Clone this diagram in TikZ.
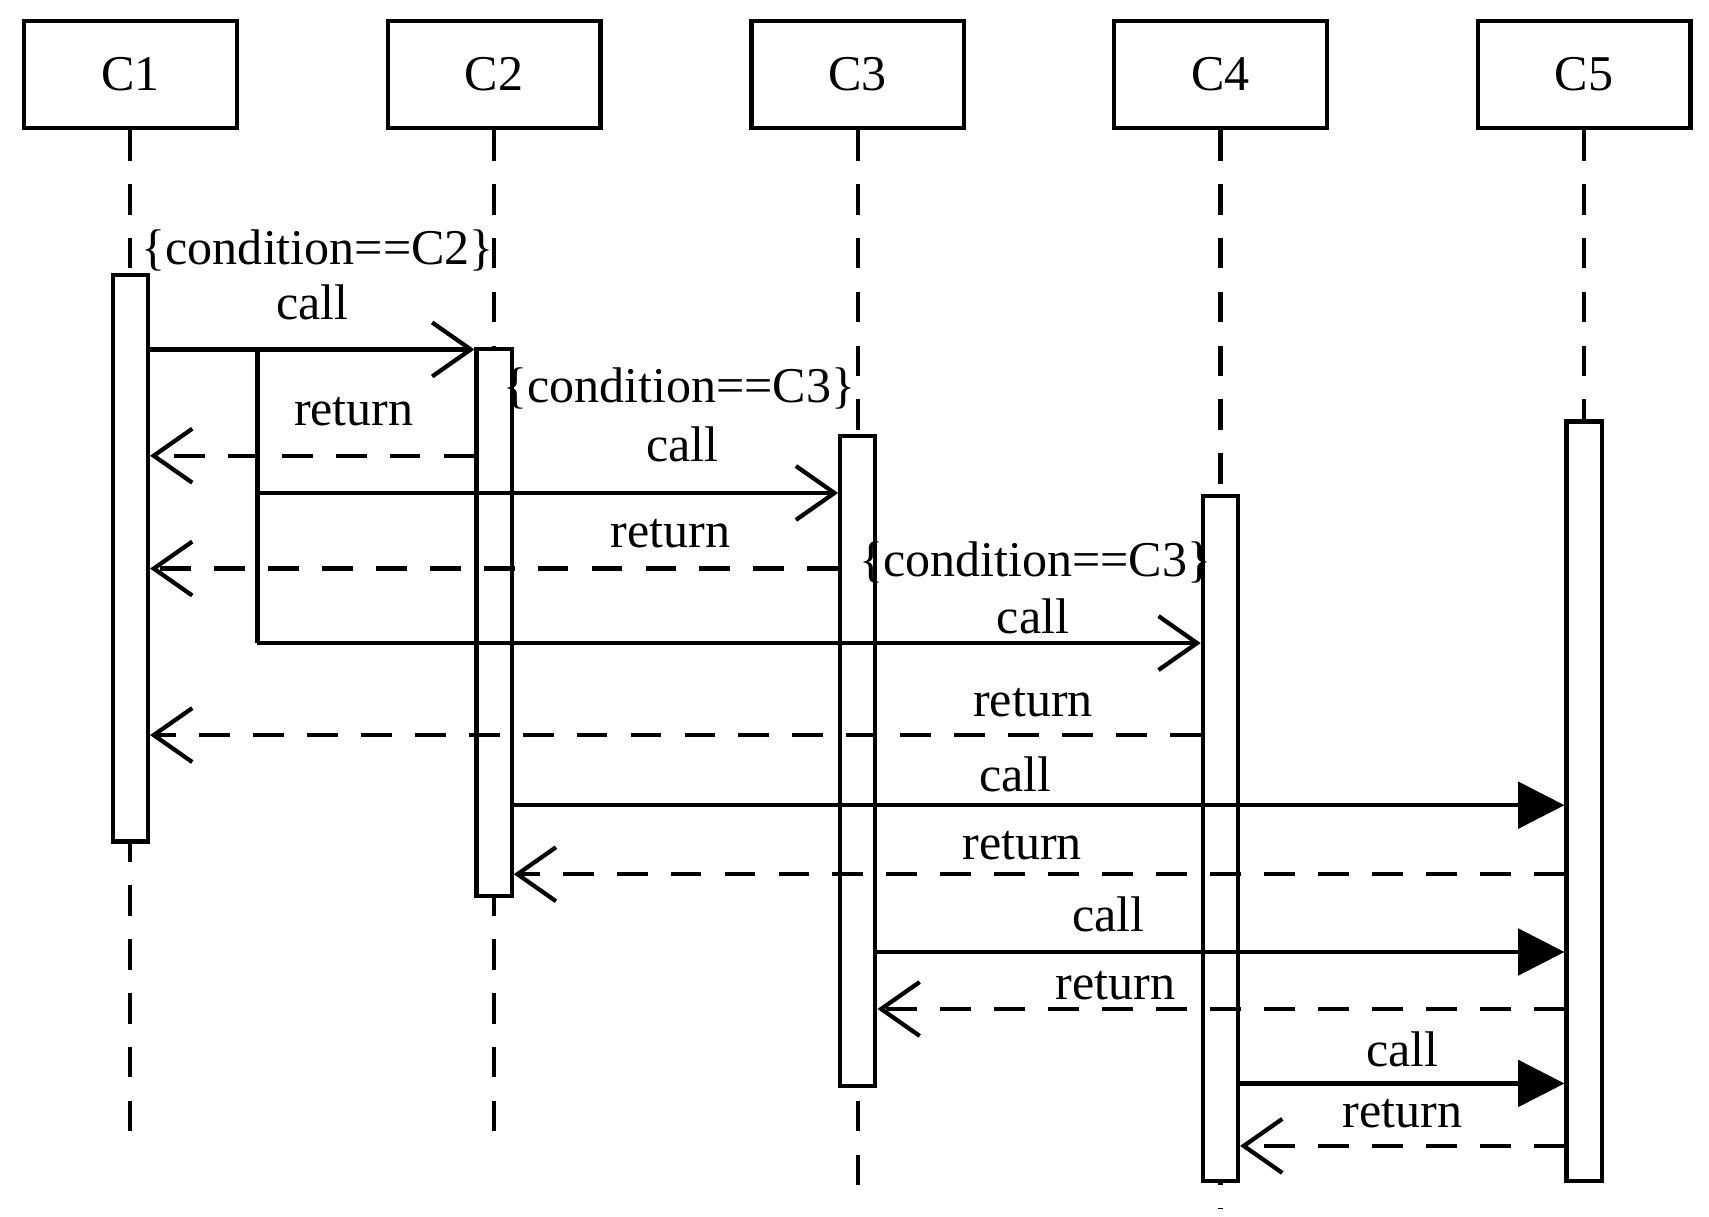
\documentclass[tikz,border=0pt]{standalone}
\usepackage{fontspec}
\setmainfont{Liberation Serif}
\usetikzlibrary{arrows.meta}
\begin{document}
\begin{tikzpicture}[x=0.01cm,y=-0.01cm,
  every node/.style={font=\fontsize{13}{15}\selectfont},
  obj/.style={draw,line width=1.1pt,minimum width=1.94cm,minimum height=0.97cm,inner sep=0pt},
  life/.style={line width=1.1pt,dash pattern=on 8pt off 6pt},
  act/.style={draw,fill=white,line width=1.1pt,inner sep=0pt,minimum width=0.32cm},
  call/.style={line width=1.1pt,-{Straight Barb[length=10pt,width=14pt,line width=1.1pt]}},
  sync/.style={line width=1.1pt,-{Triangle[length=12pt,width=12pt]}},
  ret/.style={line width=1.1pt,dash pattern=on 8pt off 6pt,-{Straight Barb[length=10pt,width=14pt,line width=1.1pt]}},
  lbl/.style={inner sep=0pt}]
\useasboundingbox (0,0) rectangle (1560,1110);
\foreach \n/\x/\e in {1/119/1040,2/451/1040,3/783/1085,4/1114/1104,5/1446/1080}{
  \node[obj] (C\n) at (\x,68) {C\n};
  \coordinate (E\n) at (\x,\e);
  \draw[life] (C\n.south) -- (E\n);
}
\node[act,minimum height=5.17cm] (A1) at (119,509.5) {};
\node[act,minimum height=4.99cm] (A2) at (451,568.5) {};
\node[act,minimum height=5.93cm] (A3) at (783,694.5) {};
\node[act,minimum height=6.25cm] (A4) at (1114,765.5) {};
\node[act,minimum height=6.93cm] (A5) at (1446,731.5) {};
% branch
\coordinate (B0) at (235,319);
\coordinate (B1) at (235,450);
\coordinate (B2) at (235,587);
\draw[call] (A1.east|-B0) -- (A2.west|-B0);
\draw[line width=1.1pt] (B0) -- (B2);
\draw[call] (B1) -- (A3.west|-B1);
\draw[call] (B2) -- (A4.west|-B2);
\coordinate (R1) at (0,416);
\coordinate (R2) at (0,519);
\coordinate (R3) at (0,671);
\draw[ret] (A2.west|-R1) -- (A1.east|-R1);
\draw[ret] (A3.west|-R2) -- (A1.east|-R2);
\draw[ret] (A4.west|-R3) -- (A1.east|-R3);
\coordinate (M1) at (0,735);
\coordinate (M2) at (0,798);
\coordinate (M3) at (0,869);
\coordinate (M4) at (0,921);
\coordinate (M5) at (0,989);
\coordinate (M6) at (0,1046);
\draw[sync] (A2.east|-M1) -- (A5.west|-M1);
\draw[ret] (A5.west|-M2) -- (A2.east|-M2);
\draw[sync] (A3.east|-M3) -- (A5.west|-M3);
\draw[ret] (A5.west|-M4) -- (A3.east|-M4);
\draw[sync] (A4.east|-M5) -- (A5.west|-M5);
\draw[ret] (A5.west|-M6) -- (A4.east|-M6);
% labels
\node[lbl] (l1) at (290,229) {\{condition==C2\}};
\node[lbl] (l2) at (285,276) {call};
\node[lbl] (l3) at (323,376) {return};
\node[lbl] (l4) at (620,355) {\{condition==C3\}};
\node[lbl] (l5) at (623,406) {call};
\node[lbl] (l6) at (612,487) {return};
\node[lbl] (l7) at (945,513) {\{condition==C3\}};
\node[lbl] (l8) at (943,563) {call};
\node[lbl] (l9) at (943,641) {return};
\node[lbl] (l10) at (927,707) {call};
\node[lbl] (l11) at (933,772) {return};
\node[lbl] (l12) at (1012,835) {call};
\node[lbl] (l13) at (1018,900) {return};
\node[lbl] (l14) at (1280,958) {call};
\node[lbl] (l15) at (1280,1017) {return};
\end{tikzpicture}
\end{document}
